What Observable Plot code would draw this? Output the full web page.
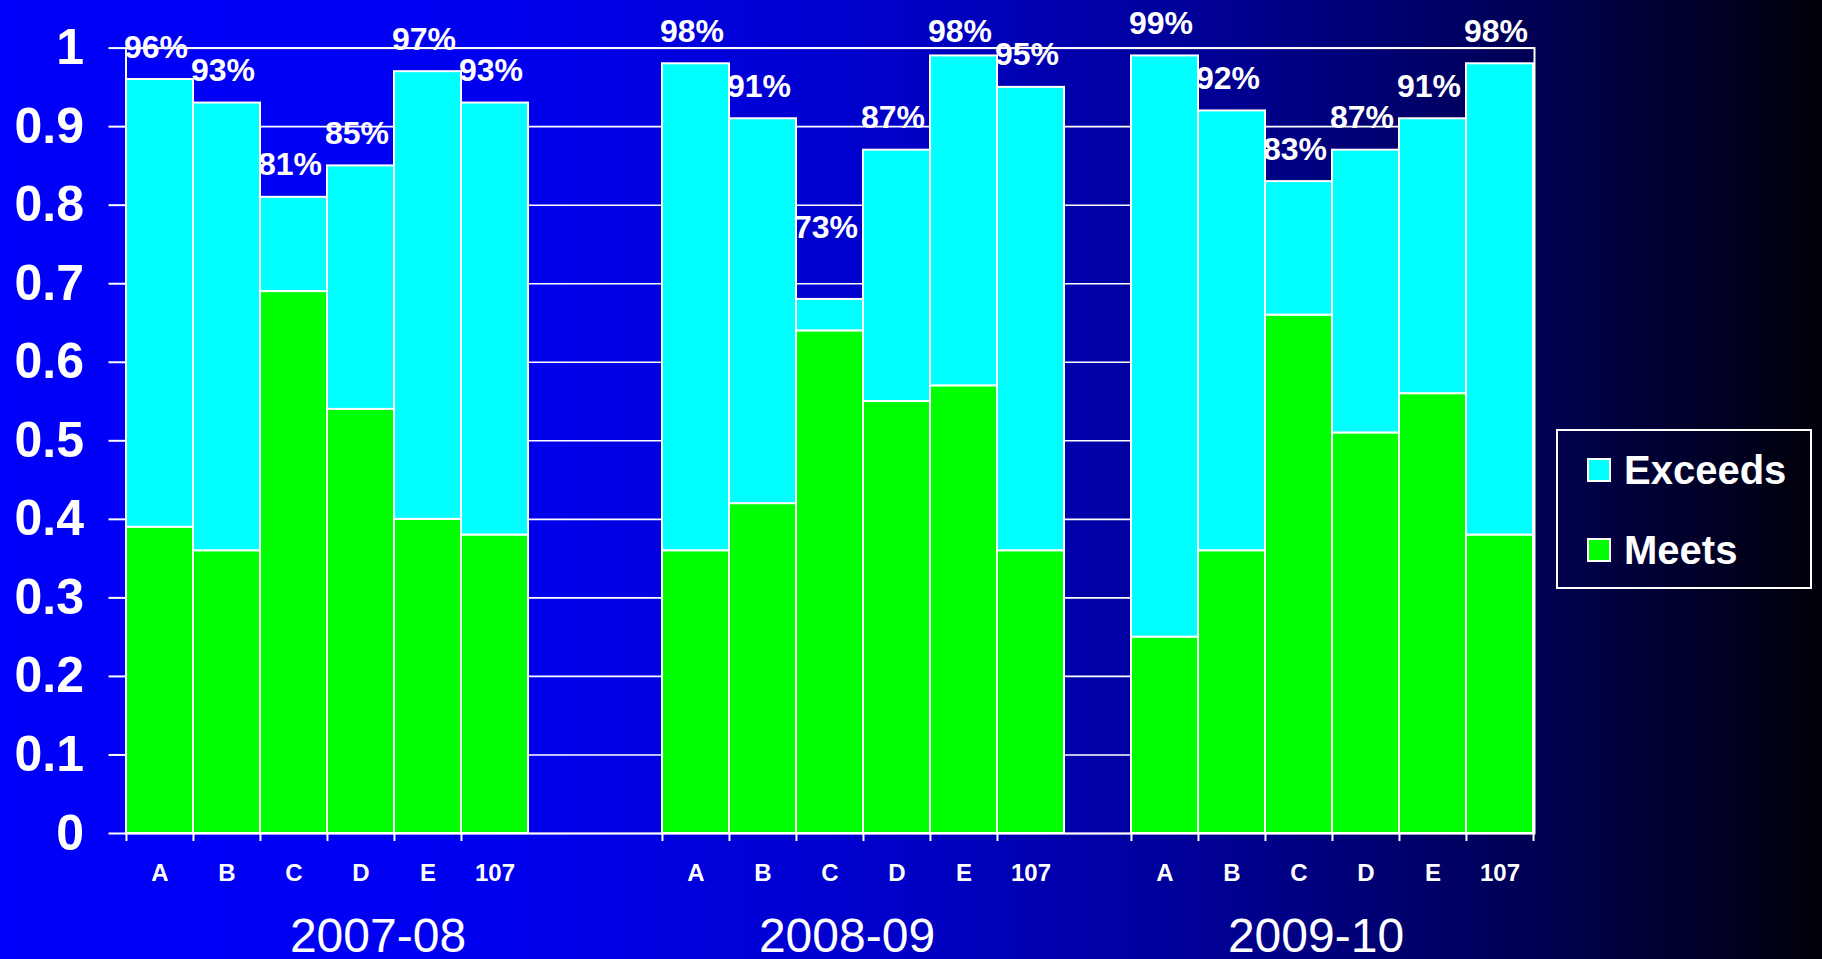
<!DOCTYPE html>
<html>
<head>
<meta charset="utf-8">
<script src="https://cdn.jsdelivr.net/npm/d3@7"></script>
<script src="https://cdn.jsdelivr.net/npm/@observablehq/plot@0.6"></script>
<style>
html, body { margin: 0; padding: 0; overflow: hidden; }
body {
  width: 1822px; height: 959px; position: relative;
  background: linear-gradient(to right, #0000fa 0%, #0000f0 27%, #0000c8 49%, #000096 66%, #000050 85%, #000008 100%);
  font-family: "Liberation Sans", Arial, sans-serif;
}
#chart { position: absolute; left: 0; top: 0; }
#legend { position: absolute; left: 1556px; top: 429px; width: 252px; height: 156px; border: 2px solid #fff; }
.item { position: absolute; left: 29px; height: 48px; line-height: 48px; display: flex; align-items: center; color: #fff; font-weight: bold; font-size: 40px; }
.sw { width: 20px; height: 20px; border: 2px solid #fff; margin-right: 13px; }
</style>
</head>
<body>
<div id="chart"></div>
<div id="legend"></div>
<script>
// ---- data ----
const years = ["2007-08", "2008-09", "2009-10"];
const schools = ["A", "B", "C", "D", "E", "107"];
const seriesNames = ["Meets", "Exceeds"];
const seriesColors = ["#00ff00", "#00ffff"];
const legendOrder = ["Exceeds", "Meets"];

const meets2007 = [0.39, 0.36, 0.69, 0.54, 0.40, 0.38];
const exceeds2007 = [0.57, 0.57, 0.12, 0.31, 0.57, 0.55];
const labels2007 = ["96%", "93%", "81%", "85%", "97%", "93%"];

const meets2008 = [0.36, 0.42, 0.64, 0.55, 0.57, 0.36];
const exceeds2008 = [0.62, 0.49, 0.04, 0.32, 0.42, 0.59];
const labels2008 = ["98%", "91%", "73%", "87%", "98%", "95%"];

const meets2009 = [0.25, 0.36, 0.66, 0.51, 0.56, 0.38];
const exceeds2009 = [0.74, 0.56, 0.17, 0.36, 0.35, 0.60];
const labels2009 = ["99%", "92%", "83%", "87%", "91%", "98%"];

const gapsAfter = [2, 1, 0];          // empty category slots after each year group
const yTicks = [0, 0.1, 0.2, 0.3, 0.4, 0.5, 0.6, 0.7, 0.8, 0.9, 1];
const groupLabelAnchor = ["D", "C", "C"];

// ---- build tables ----
const meetsAll = [meets2007, meets2008, meets2009];
const exceedsAll = [exceeds2007, exceeds2008, exceeds2009];
const labelsAll = [labels2007, labels2008, labels2009];

const xDomain = [];
const barKeys = [];
let g = 0;
years.forEach((yr, i) => {
  schools.forEach(s => { xDomain.push(yr + " " + s); barKeys.push(yr + " " + s); });
  for (let k = 0; k < gapsAfter[i]; k++) xDomain.push("gap" + (++g));
});

const rows = [];
const labelRows = [];
years.forEach((yr, i) => {
  schools.forEach((s, j) => {
    const key = yr + " " + s;
    rows.push({key, series: "Meets", value: meetsAll[i][j]});
    rows.push({key, series: "Exceeds", value: exceedsAll[i][j]});
    labelRows.push({key, text: labelsAll[i][j], value: parseFloat(labelsAll[i][j]) / 100});
  });
});
const groupRows = years.map((yr, i) => ({key: yr + " " + groupLabelAnchor[i], text: yr}));

// ---- layout ----
const W = 1822, H = 959;
const mL = 125.5, mR = 288, mT = 47.6, mB = 126;
const bw = (W - mL - mR) / xDomain.length;
const FONT = '"Liberation Sans", Arial, sans-serif';

const chart = Plot.plot({
  width: W, height: H,
  marginLeft: mL, marginRight: mR, marginTop: mT, marginBottom: mB,
  style: {background: "transparent", color: "white", fontFamily: FONT, overflow: "visible"},
  x: {domain: xDomain, padding: 0, axis: null, label: null},
  y: {domain: [0, 1], axis: null, label: null},
  color: {domain: seriesNames, range: seriesColors},
  marks: [
    Plot.gridY({ticks: yTicks, stroke: "white", strokeOpacity: 1, strokeWidth: 1.6}),
    Plot.barY(rows, {x: "key", y: "value", fill: "series", stroke: "white", strokeWidth: 2}),
    Plot.frame({stroke: "white", strokeWidth: 2}),
    Plot.axisY({ticks: yTicks, tickSize: 17, tickPadding: 25, strokeWidth: 2, label: null,
      tickFormat: d => String(Math.round(d * 10) / 10),
      fontSize: 50, fontWeight: "bold", fill: "white"}),
    Plot.axisX({ticks: barKeys, tickSize: 8, strokeWidth: 2, label: null, tickFormat: () => "", dx: -bw / 2}),
    Plot.axisX({ticks: [barKeys[barKeys.length - 1]], tickSize: 8, strokeWidth: 2, label: null, tickFormat: () => "", dx: bw / 2}),
    Plot.axisX({ticks: barKeys, tickSize: 0, tickPadding: 30, label: null,
      tickFormat: d => d.split(" ")[1], fontSize: 24, fontWeight: "bold", fill: "white"}),
    Plot.text(labelRows, {x: "key", y: "value", text: "text", dx: -4, dy: -22, lineAnchor: "bottom",
      fill: "white", fontSize: 32, fontWeight: "bold"}),
    Plot.text(groupRows, {x: "key", y: () => 0, text: "text", dx: 17, dy: 118, lineAnchor: "bottom",
      fill: "white", fontSize: 48, fontWeight: "normal"})
  ]
});
document.getElementById("chart").appendChild(chart);

// ---- legend ----
const legend = document.getElementById("legend");
legendOrder.forEach((name, i) => {
  const item = document.createElement("div");
  item.className = "item";
  item.style.top = (15 + i * 80) + "px";
  const sw = document.createElement("div");
  sw.className = "sw";
  sw.style.background = seriesColors[seriesNames.indexOf(name)];
  const t = document.createElement("span");
  t.textContent = name;
  item.appendChild(sw); item.appendChild(t);
  legend.appendChild(item);
});
</script>
</body>
</html>
